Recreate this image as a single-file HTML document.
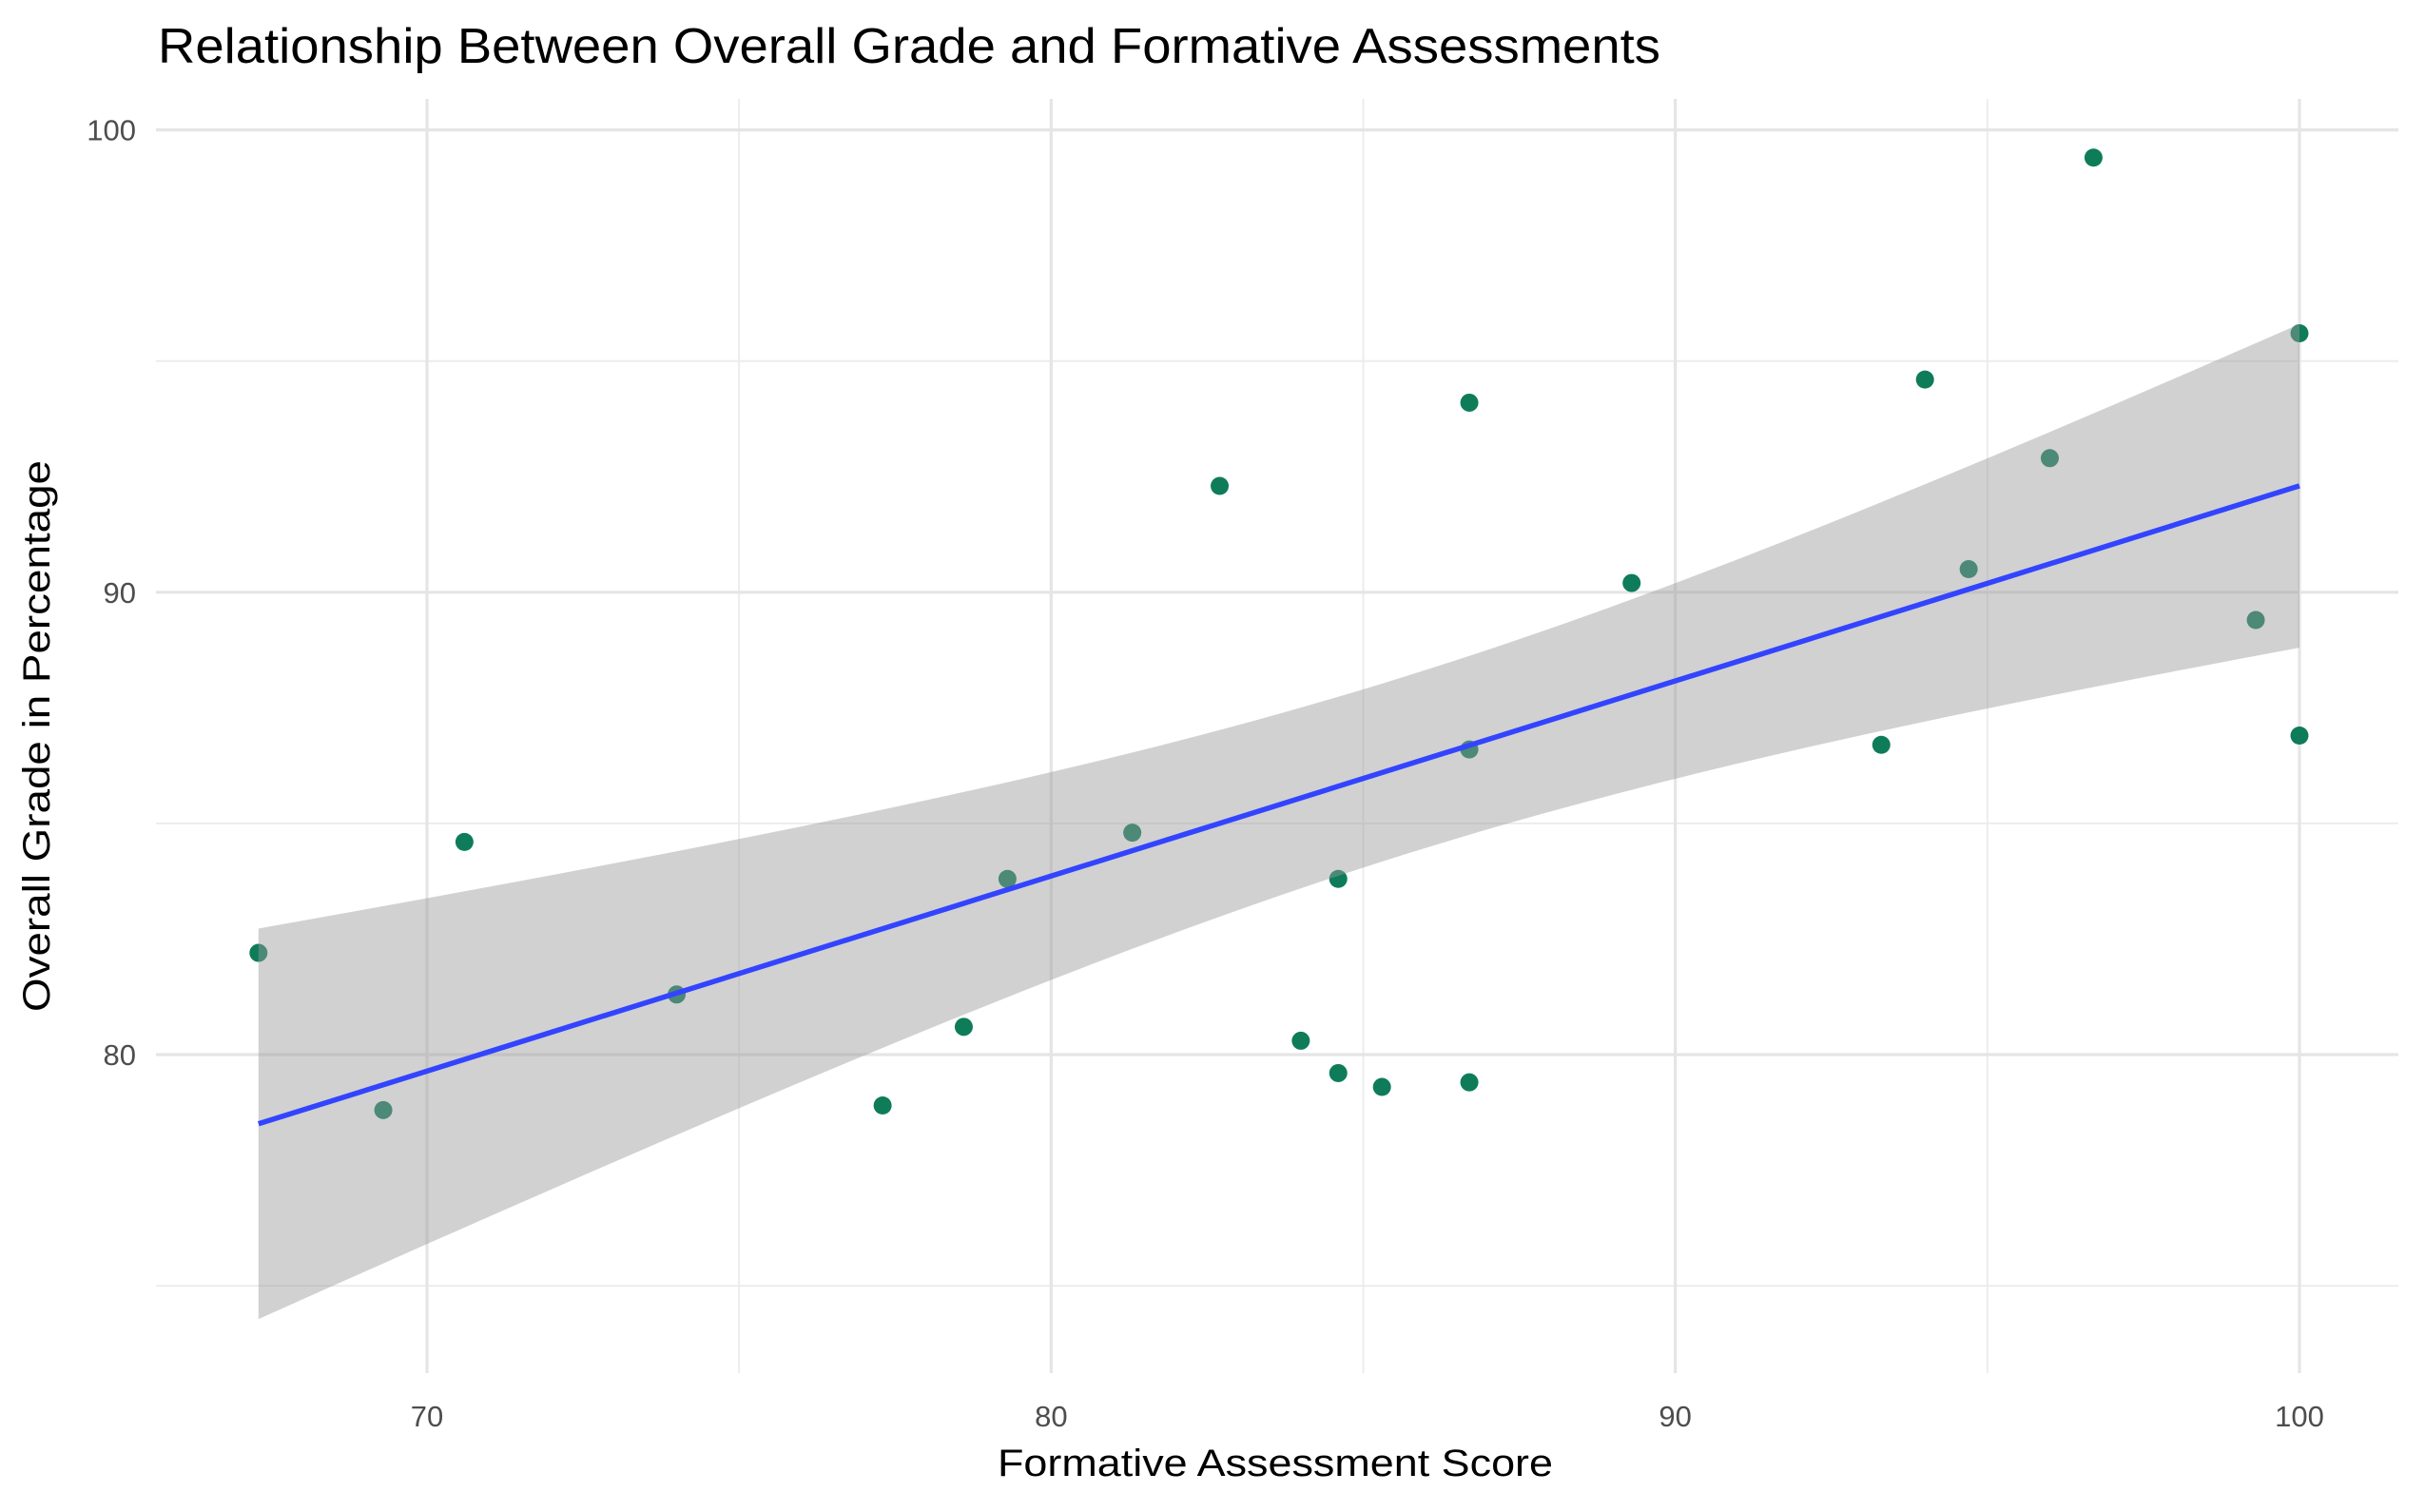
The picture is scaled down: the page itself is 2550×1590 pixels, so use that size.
<!DOCTYPE html>
<html><head><meta charset="utf-8"><style>
html,body{margin:0;padding:0;background:#fff;}
svg{display:block;font-family:"Liberation Sans",sans-serif;}
</style></head><body>
<svg id="chart" width="2550" height="1590" viewBox="0 0 2550 1590" xmlns="http://www.w3.org/2000/svg">
<rect width="2550" height="1590" fill="#fff"/>
<text x="166" y="66" font-size="52" fill="#000" textLength="1580" lengthAdjust="spacingAndGlyphs">Relationship Between Overall Grade and Formative Assessments</text>
<g id="grid"></g>
<g id="axes"></g>
<g id="marks"></g>
<text x="1341" y="1552" font-size="40" fill="#000" text-anchor="middle" textLength="584" lengthAdjust="spacingAndGlyphs">Formative Assessment Score</text>
<text transform="translate(52,774) rotate(-90)" font-size="40" fill="#000" text-anchor="middle" textLength="580" lengthAdjust="spacingAndGlyphs">Overall Grade in Percentage</text>
</svg>
<script>
const formativeScores = [67.3,69.3,70.6,74.0,77.3,78.6,79.3,81.3,82.7,84.0,84.6,84.6,85.3,86.7,86.7,86.7,89.3,93.3,94.0,94.7,96.0,96.7,99.3,100.0,100.0];
const overallGrades   = [82.2,78.8,84.6,81.3,78.9,80.6,83.8,84.8,92.3,80.3,83.8,79.6,79.3,94.1,86.6,79.4,90.2,86.7,94.6,90.5,92.9,99.4,89.4,95.6,86.9];
const xTicks = [70,80,90,100];
const xMinor = [75,85,95];
const yTicks = [80,90,100];
const yMinor = [75,85,95];

const NS="http://www.w3.org/2000/svg";
const X0=164,X1=2522,Y0=104,Y1=1444;
function sx(v){return 449+(v-70)*(2418-449)/30;}
function sy(v){return 136.6+(100-v)*(1109-136.6)/20;}
function mk(tag,attrs,parent){const e=document.createElementNS(NS,tag);for(const k in attrs)e.setAttribute(k,attrs[k]);parent.appendChild(e);return e;}
const grid=document.getElementById('grid'),axes=document.getElementById('axes'),marks=document.getElementById('marks');

xMinor.forEach(v=>{const l=mk('line',{x1:sx(v),x2:sx(v),y1:Y0,y2:Y1,stroke:'#ebebeb','stroke-width':1.8},grid);

});
yMinor.forEach(v=>{const l=mk('line',{x1:X0,x2:X1,y1:sy(v),y2:sy(v),stroke:'#ebebeb','stroke-width':1.8},grid);

});
xTicks.forEach(v=>{const l=mk('line',{x1:sx(v),x2:sx(v),y1:Y0,y2:Y1,stroke:'#e5e5e5','stroke-width':3.2},grid);


const t=mk('text',{x:sx(v),y:1500,'font-size':31,fill:'#4d4d4d','text-anchor':'middle'},axes);t.textContent=v;

});
yTicks.forEach(v=>{const l=mk('line',{x1:X0,x2:X1,y1:sy(v),y2:sy(v),stroke:'#e5e5e5','stroke-width':3.2},grid);


const t=mk('text',{x:143,y:sy(v)+11,'font-size':31,fill:'#4d4d4d','text-anchor':'end'},axes);t.textContent=v;

});

formativeScores.forEach((xv,i)=>{const c=mk('circle',{cx:sx(xv),cy:sy(overallGrades[i]),r:9.5,fill:'#0e7c59'},marks);

});

// linear regression with 95% confidence band
const n=formativeScores.length;
const mx=formativeScores.reduce((a,b)=>a+b,0)/n, my=overallGrades.reduce((a,b)=>a+b,0)/n;
let sxx=0,sxy=0;formativeScores.forEach((x,i)=>{sxx+=(x-mx)**2;sxy+=(x-mx)*(overallGrades[i]-my);});
const b=sxy/sxx,a=my-b*mx;
let sse=0;formativeScores.forEach((x,i)=>{sse+=(overallGrades[i]-a-b*x)**2;});
const s=Math.sqrt(sse/(n-2)),tq=2.069;
const xmin=Math.min(...formativeScores),xmax=Math.max(...formativeScores);
const up=[],lo=[];
for(let k=0;k<=80;k++){const x=xmin+(xmax-xmin)*k/80;const f=a+b*x;const se=s*Math.sqrt(1/n+(x-mx)**2/sxx);
up.push(sx(x)+','+sy(f+tq*se));lo.unshift(sx(x)+','+sy(f-tq*se));}
const band=mk('polygon',{points:up.concat(lo).join(' '),fill:'#999999','fill-opacity':0.45},marks);


const line=mk('line',{x1:sx(xmin),y1:sy(a+b*xmin),x2:sx(xmax),y2:sy(a+b*xmax),stroke:'#3344ff','stroke-width':5.5},marks);


</script>
</body></html>
